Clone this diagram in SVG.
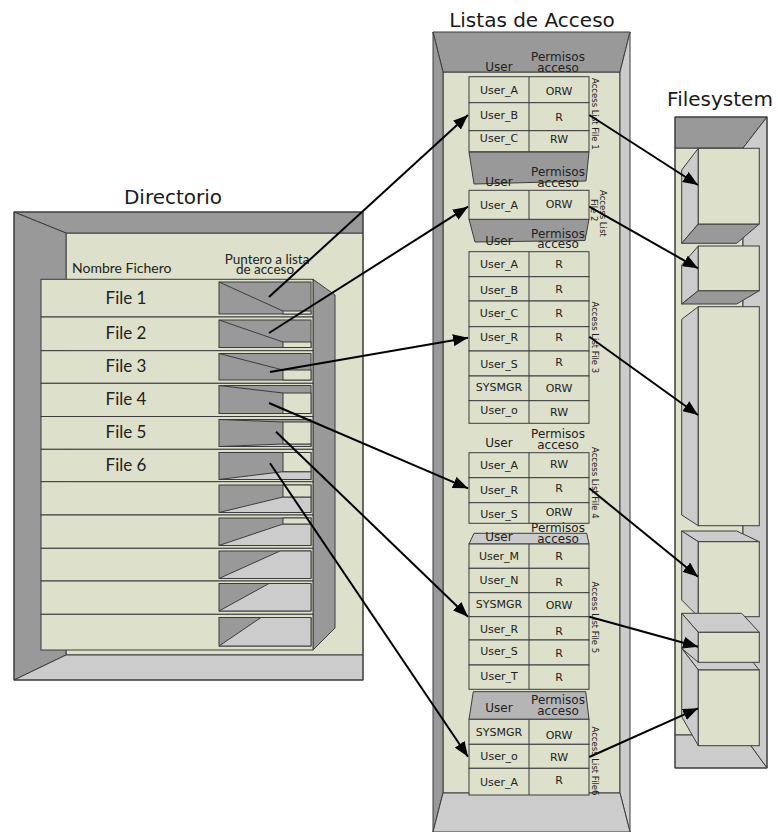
<svg xmlns="http://www.w3.org/2000/svg" width="778" height="832" viewBox="0 0 778 832">
<defs>
<style>
.lg{fill:#dde0cb;stroke:#3c3c3c;stroke-width:1}
.dk{fill:#999999;stroke:#3c3c3c;stroke-width:1}
.gr{fill:#cccccc;stroke:#3c3c3c;stroke-width:1}
.nofill{fill:none;stroke:#3c3c3c;stroke-width:1}
.title{font-family:"DejaVu Sans",sans-serif;font-size:20px;fill:#1a1a1a}
.dir{font-family:Lato,"Open Sans",sans-serif;fill:#222}
.cell{font-family:"DejaVu Sans",sans-serif;font-size:11px;fill:#222;text-anchor:middle}
.hdr{font-family:"DejaVu Sans",sans-serif;font-size:12px;fill:#222;text-anchor:middle}
.side{font-family:"DejaVu Sans",sans-serif;font-size:8.5px;fill:#222}
.arrow{fill:none;stroke:#000;stroke-width:2;marker-end:url(#ah)}
</style>
<marker id="ah" markerUnits="userSpaceOnUse" markerWidth="16" markerHeight="12" refX="15" refY="6" orient="auto">
<path d="M0,0 L15,6 L0,12 z" fill="#000"/>
</marker>
</defs>
<rect width="778" height="832" fill="#ffffff"/>

<!-- Titles -->
<text class="title" x="173" y="204" text-anchor="middle" font-size="21">Directorio</text>
<text class="title" x="532" y="27" text-anchor="middle">Listas de Acceso</text>
<text class="title" x="720" y="106" text-anchor="middle">Filesystem</text>

<!-- Directory -->
<g id="directorio">
<rect x="66" y="233" width="297" height="422" class="lg"/>
<polygon points="14,212 363,212 363,233 66,233" class="dk"/>
<polygon points="14,212 66,233 66,655 14,680" class="dk"/>
<polygon points="14,680 66,655 363,655 363,680" class="gr"/>
<rect x="14" y="212" width="349" height="468" class="nofill"/>
<text class="dir" x="72" y="273" font-size="14">Nombre Fichero</text>
<text class="dir" x="267" y="264" font-size="13.5" text-anchor="middle">Puntero a lista</text>
<text class="dir" x="265" y="274" font-size="13.5" text-anchor="middle">de acceso</text>
<polygon points="313,279.3 335,295 335,628 313,650" class="dk"/>
<g id="drawers">
<rect x="41" y="279.3" width="272" height="37.7" class="lg"/>
<rect x="41" y="317" width="272" height="33.7" class="lg"/>
<rect x="41" y="350.7" width="272" height="32.6" class="lg"/>
<rect x="41" y="383.3" width="272" height="33.2" class="lg"/>
<rect x="41" y="416.5" width="272" height="32.8" class="lg"/>
<rect x="41" y="449.3" width="272" height="32.4" class="lg"/>
<rect x="41" y="481.7" width="272" height="33.3" class="lg"/>
<rect x="41" y="515" width="272" height="33.3" class="lg"/>
<rect x="41" y="548.3" width="272" height="32.7" class="lg"/>
<rect x="41" y="581" width="272" height="33.3" class="lg"/>
<rect x="41" y="614.3" width="272" height="35.7" class="lg"/>
</g>
<g id="slots">
<rect x="219" y="282" width="92" height="32" class="dk"/>
<rect x="283" y="311" width="28" height="3" class="lg"/>
<line x1="219" y1="282" x2="283" y2="311" class="nofill"/>
<rect x="219" y="320" width="92" height="27.5" class="dk"/>
<rect x="283" y="342" width="28" height="5.5" class="lg"/>
<line x1="219" y1="320" x2="283" y2="342" class="nofill"/>
<rect x="219" y="353.5" width="92" height="26.5" class="dk"/>
<rect x="283" y="370" width="28" height="10" class="lg"/>
<line x1="219" y1="353.5" x2="283" y2="370" class="nofill"/>
<rect x="219" y="385.5" width="92" height="28" class="dk"/>
<rect x="283" y="393" width="28" height="20.5" class="lg"/>
<line x1="219" y1="385.5" x2="283" y2="393" class="nofill"/>
<rect x="219" y="419.5" width="92" height="27" class="dk"/>
<polygon points="219,446.5 283,444 311,444 311,446.5" class="gr"/>
<rect x="283" y="422" width="28" height="22" class="lg"/>
<line x1="219" y1="419.5" x2="283" y2="422" class="nofill"/>
<rect x="219" y="452.5" width="92" height="27" class="dk"/>
<polygon points="219,479.5 283,471.7 311,471.7 311,479.5" class="gr"/>
<rect x="283" y="452.5" width="28" height="19.2" class="lg"/>
<rect x="219" y="485" width="92" height="27.5" class="dk"/>
<polygon points="219,512.5 283,497 311,497 311,512.5" class="gr"/>
<rect x="283" y="485" width="28" height="12" class="lg"/>
<rect x="219" y="518" width="92" height="27.5" class="dk"/>
<polygon points="219,545.5 283,524 311,524 311,545.5" class="gr"/>
<rect x="283" y="518" width="28" height="6" class="lg"/>
<rect x="219" y="551" width="92" height="27.5" class="dk"/>
<polygon points="219,578.5 280,551 311,551 311,578.5" class="gr"/>
<rect x="219" y="583.5" width="92" height="27.5" class="dk"/>
<polygon points="219,611 269,583.5 311,583.5 311,611" class="gr"/>
<rect x="219" y="617.5" width="92" height="28.5" class="dk"/>
<polygon points="219,646 261,617.5 311,617.5 311,646" class="gr"/>
</g>
<g>
<text class="dir" x="126" y="304" font-size="17" text-anchor="middle">File 1</text>
<text class="dir" x="126" y="339" font-size="17" text-anchor="middle">File 2</text>
<text class="dir" x="126" y="372" font-size="17" text-anchor="middle">File 3</text>
<text class="dir" x="126" y="405" font-size="17" text-anchor="middle">File 4</text>
<text class="dir" x="126" y="438" font-size="17" text-anchor="middle">File 5</text>
<text class="dir" x="126" y="471" font-size="17" text-anchor="middle">File 6</text>
</g>
</g>

<!-- Access lists frame -->
<g id="listas">
<rect x="443" y="72" width="177" height="721" class="lg"/>
<polygon points="433,32 630,32 620,72 443,72" class="dk"/>
<polygon points="433,32 443,72 443,793 433,832" class="dk"/>
<polygon points="630,32 630,832 620,793 620,72" class="gr"/>
<polygon points="443,793 620,793 630,832 433,832" class="gr"/>
</g>

<g id="acl1">
<polygon points="469,152 589,152 586,181 474,184" class="dk"/>
<text class="hdr" x="499" y="71">User</text>
<text class="hdr" x="558" y="61">Permisos</text>
<text class="hdr" x="558" y="72">acceso</text>
<rect x="469" y="76.7" width="120" height="26" class="lg"/>
<rect x="469" y="102.7" width="120" height="28" class="lg"/>
<rect x="469" y="130.7" width="120" height="21" class="lg"/>
<line x1="529" y1="76.7" x2="529" y2="151.7" class="nofill"/>
<text class="cell" x="499" y="94">User_A</text><text class="cell" x="559" y="95">ORW</text>
<text class="cell" x="499" y="119">User_B</text><text class="cell" x="559" y="121">R</text>
<text class="cell" x="499" y="142">User_C</text><text class="cell" x="559" y="143">RW</text>
<text class="side" transform="translate(592,78) rotate(90)">Access List File 1</text>
</g>

<g id="acl2">
<polygon points="469,219.3 589,219.3 585,240.5 475,242" class="dk"/>
<text class="hdr" x="499" y="186">User</text>
<text class="hdr" x="558" y="176">Permisos</text>
<text class="hdr" x="558" y="186.5">acceso</text>
<rect x="469" y="190.3" width="120" height="29" class="lg"/>
<line x1="529" y1="190.3" x2="529" y2="219.3" class="nofill"/>
<text class="cell" x="499" y="209">User_A</text><text class="cell" x="559" y="208">ORW</text>
<text class="side" transform="translate(600,190) rotate(90)">Access List</text>
<text class="side" transform="translate(591,199) rotate(90)">File 2</text>
</g>

<g id="acl3">
<text class="hdr" x="499" y="245">User</text>
<text class="hdr" x="558" y="237.5">Permisos</text>
<text class="hdr" x="558" y="248">acceso</text>
<rect x="469" y="251.7" width="120" height="25" class="lg"/>
<rect x="469" y="276.7" width="120" height="24.3" class="lg"/>
<rect x="469" y="301" width="120" height="25.7" class="lg"/>
<rect x="469" y="326.7" width="120" height="24.3" class="lg"/>
<rect x="469" y="351" width="120" height="25" class="lg"/>
<rect x="469" y="376" width="120" height="24.7" class="lg"/>
<rect x="469" y="400.7" width="120" height="22.6" class="lg"/>
<line x1="529" y1="251.7" x2="529" y2="423.3" class="nofill"/>
<text class="cell" x="499" y="268">User_A</text><text class="cell" x="559" y="268">R</text>
<text class="cell" x="499" y="294">User_B</text><text class="cell" x="559" y="293">R</text>
<text class="cell" x="499" y="317">User_C</text><text class="cell" x="559" y="317">R</text>
<text class="cell" x="499" y="341">User_R</text><text class="cell" x="559" y="341">R</text>
<text class="cell" x="499" y="368">User_S</text><text class="cell" x="559" y="366">R</text>
<text class="cell" x="499" y="391">SYSMGR</text><text class="cell" x="559" y="392">ORW</text>
<text class="cell" x="499" y="414">User_o</text><text class="cell" x="559" y="416">RW</text>
<text class="side" transform="translate(592,301.5) rotate(90)">Access List File 3</text>
</g>

<g id="acl4">
<text class="hdr" x="499" y="447">User</text>
<text class="hdr" x="558" y="437.5">Permisos</text>
<text class="hdr" x="558" y="449">acceso</text>
<rect x="469" y="452.7" width="120" height="25" class="lg"/>
<rect x="469" y="477.7" width="120" height="25" class="lg"/>
<rect x="469" y="502.7" width="120" height="20.6" class="lg"/>
<line x1="529" y1="452.7" x2="529" y2="523.3" class="nofill"/>
<text class="cell" x="499" y="469">User_A</text><text class="cell" x="559" y="468">RW</text>
<text class="cell" x="499" y="494">User_R</text><text class="cell" x="559" y="492">R</text>
<text class="cell" x="499" y="518">User_S</text><text class="cell" x="559" y="516">ORW</text>
<text class="side" transform="translate(592,447) rotate(90)">Access List File 4</text>
</g>

<g id="acl5">
<polygon points="474,533.3 586.7,533.3 589,544 469,544" fill="#cbcbcb" stroke="#3c3c3c" stroke-width="1"/>
<text class="hdr" x="499" y="541">User</text>
<text class="hdr" x="558" y="531.5">Permisos</text>
<text class="hdr" x="558" y="543">acceso</text>
<rect x="469" y="544" width="120" height="24.3" class="lg"/>
<rect x="469" y="568.3" width="120" height="24.4" class="lg"/>
<rect x="469" y="592.7" width="120" height="24" class="lg"/>
<rect x="469" y="616.7" width="120" height="23.3" class="lg"/>
<rect x="469" y="640" width="120" height="25" class="lg"/>
<rect x="469" y="665" width="120" height="24.3" class="lg"/>
<line x1="529" y1="544" x2="529" y2="689.3" class="nofill"/>
<text class="cell" x="499" y="560">User_M</text><text class="cell" x="559" y="560">R</text>
<text class="cell" x="499" y="584">User_N</text><text class="cell" x="559" y="586">R</text>
<text class="cell" x="499" y="608">SYSMGR</text><text class="cell" x="559" y="609">ORW</text>
<text class="cell" x="499" y="633">User_R</text><text class="cell" x="559" y="635">R</text>
<text class="cell" x="499" y="655">User_S</text><text class="cell" x="559" y="657">R</text>
<text class="cell" x="499" y="680">User_T</text><text class="cell" x="559" y="681">R</text>
<text class="side" transform="translate(592,581.5) rotate(90)">Access List File 5</text>
</g>

<g id="acl6">
<polygon points="473.3,691.7 585.7,691.7 589,719.3 469,719.3" fill="#b5b5b5" stroke="#3c3c3c" stroke-width="1"/>
<text class="hdr" x="499" y="712">User</text>
<text class="hdr" x="558" y="703.5">Permisos</text>
<text class="hdr" x="558" y="715">acceso</text>
<rect x="469" y="719.3" width="120" height="25" class="lg"/>
<rect x="469" y="744.3" width="120" height="24" class="lg"/>
<rect x="469" y="768.3" width="120" height="26.7" class="lg"/>
<line x1="529" y1="719.3" x2="529" y2="795" class="nofill"/>
<text class="cell" x="499" y="736">SYSMGR</text><text class="cell" x="559" y="739">ORW</text>
<text class="cell" x="499" y="760">User_o</text><text class="cell" x="559" y="761">RW</text>
<text class="cell" x="499" y="786">User_A</text><text class="cell" x="559" y="784">R</text>
<text class="side" transform="translate(592,726.5) rotate(90)">Access List File6</text>
</g>

<!-- Filesystem -->
<g id="filesystem">
<rect x="675" y="148" width="68" height="587" class="lg"/>
<polygon points="675,117 767,117 743,148 675,148" class="dk"/>
<polygon points="767,117 767,768 743,735 743,148" class="gr"/>
<polygon points="675,735 743,735 767,768 675,768" class="gr"/>
<rect x="675" y="117" width="92" height="651" class="nofill"/>
</g>
<g id="bloque1">
<polygon points="698.3,148.3 681.7,170 681.7,243.3 698.3,224" class="gr"/>
<polygon points="681.7,243.3 736.7,243.3 759.3,224 698.3,224" class="dk"/>
<rect x="698.3" y="148.3" width="61" height="75.7" class="lg"/>
</g>
<g id="bloque2">
<polygon points="698.3,246 681.7,265 681.7,304 698.3,290.7" class="gr"/>
<polygon points="681.7,304 736.7,304 759.3,290.7 698.3,290.7" class="dk"/>
<rect x="698.3" y="246" width="61" height="44.7" class="lg"/>
</g>
<g id="bloque3">
<polygon points="698.3,306.7 681.7,319.3 681.7,515 698.3,525.7" class="gr"/>
<rect x="698.3" y="306.7" width="61" height="219" class="lg"/>
</g>
<g id="bloque4">
<polygon points="681.7,531 736.7,531 759.3,541.7 698.3,541.7" class="gr"/>
<polygon points="681.7,531 698.3,541.7 698.3,616.7 681.7,600" class="gr"/>
<rect x="698.3" y="541.7" width="61" height="75" class="lg"/>
</g>
<g id="bloque6">
<polygon points="681.7,648.3 741.7,648.3 759.3,670 698.3,670" class="gr"/>
<polygon points="681.7,648.3 698.3,670 698.3,745.7 681.7,716.7" class="gr"/>
<rect x="698.3" y="670" width="61" height="75.7" class="lg"/>
</g>
<g id="bloque5">
<polygon points="681.7,613.3 741.7,613.3 759.3,632.3 698.3,632.3" class="gr"/>
<polygon points="681.7,613.3 698.3,632.3 698.3,662.3 681.7,648.3" class="gr"/>
<rect x="698.3" y="632.3" width="61" height="30" class="lg"/>
</g>

<!-- Connectors -->
<g id="connectors">
<line class="arrow" x1="269" y1="297" x2="468" y2="115"/>
<line class="arrow" x1="269" y1="333" x2="468" y2="206.7"/>
<line class="arrow" x1="270" y1="372" x2="468" y2="337.7"/>
<line class="arrow" x1="269" y1="403" x2="468" y2="488.3"/>
<line class="arrow" x1="276" y1="431.7" x2="468" y2="616.7"/>
<line class="arrow" x1="270" y1="463.3" x2="468" y2="756.7"/>
<line class="arrow" x1="589.3" y1="115" x2="698" y2="185"/>
<line class="arrow" x1="589.3" y1="206.7" x2="698" y2="268.3"/>
<line class="arrow" x1="589.3" y1="336.7" x2="698" y2="415"/>
<line class="arrow" x1="589.3" y1="488.3" x2="698" y2="576.7"/>
<line class="arrow" x1="589.3" y1="616.7" x2="698" y2="646.7"/>
<line class="arrow" x1="589.3" y1="757" x2="698" y2="708.3"/>
</g>
</svg>
